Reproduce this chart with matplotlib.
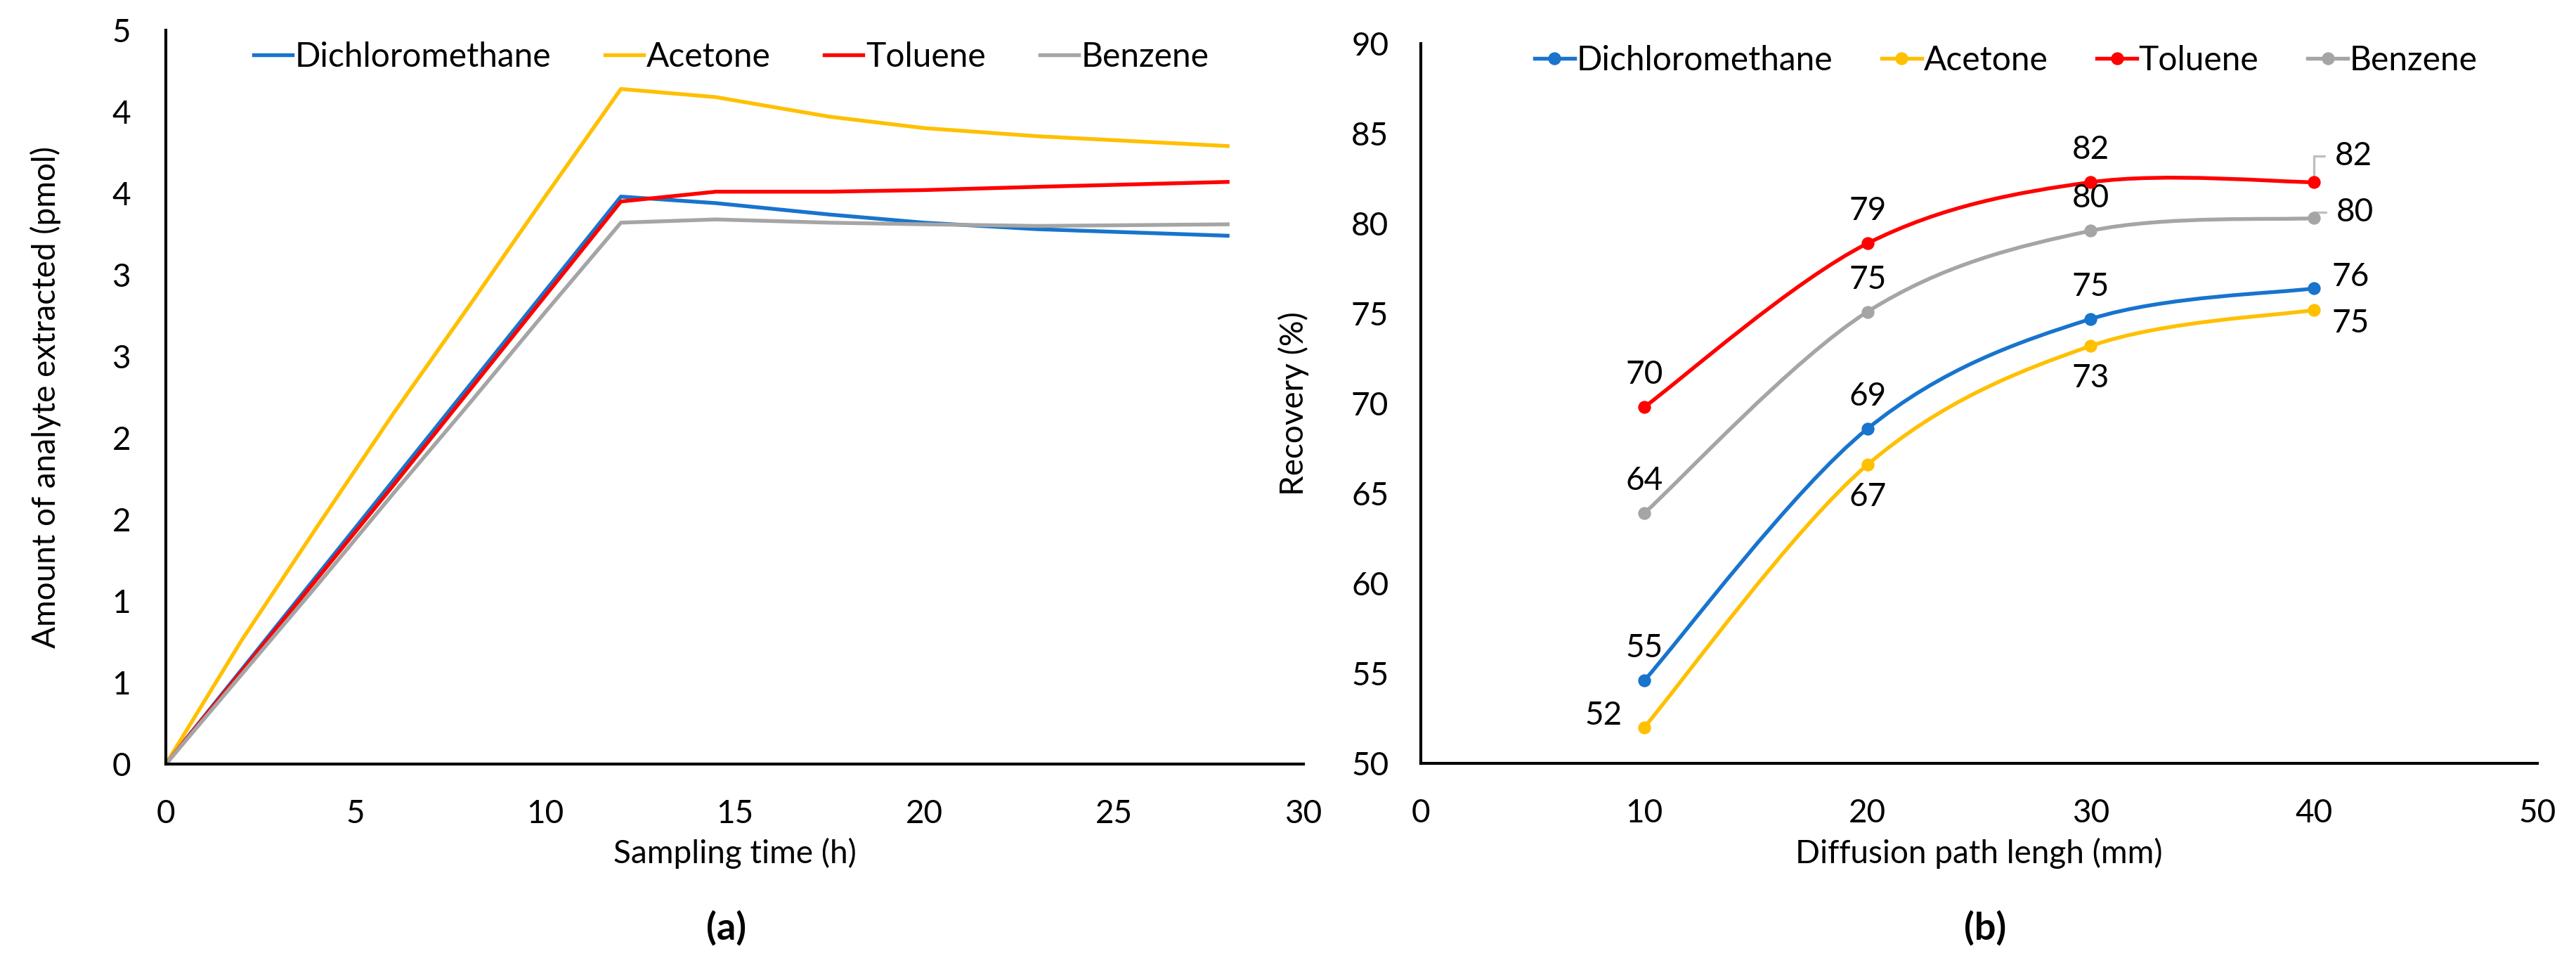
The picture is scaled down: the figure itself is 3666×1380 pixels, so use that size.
import matplotlib
matplotlib.use('Agg')
import matplotlib.pyplot as plt
import numpy as np
from matplotlib.path import Path
from matplotlib.patches import PathPatch
from matplotlib.lines import Line2D
from matplotlib.ticker import FuncFormatter, MultipleLocator

plt.rcParams['font.family'] = ['Lato', 'DejaVu Sans']

# ── Palette ──────────────────────────────────────────────────────────────
BLUE = '#1874CD'
GOLD = '#FFC000'
RED = '#FF0000'
GREY = '#A5A5A5'
LEADER = '#BFBFBF'

solvents = ['Dichloromethane', 'Acetone', 'Toluene', 'Benzene']
colors = [BLUE, GOLD, RED, GREY]

# ── (a) amount extracted vs sampling time ────────────────────────────────
time_h = [0, 2, 4, 6, 8, 10, 12, 14.5, 17.5, 20, 23, 28]
amount_dcm = [0, 0.58, 1.16, 1.74, 2.32, 2.90, 3.48, 3.44, 3.37, 3.32, 3.28, 3.24]
amount_acetone = [0, 0.76, 1.46, 2.15, 2.81, 3.48, 4.14, 4.09, 3.97, 3.90, 3.85, 3.79]
amount_toluene = [0, 0.57, 1.14, 1.71, 2.29, 2.87, 3.45, 3.51, 3.51, 3.52, 3.54, 3.57]
amount_benzene = [0, 0.55, 1.10, 1.66, 2.21, 2.77, 3.32, 3.34, 3.32, 3.31, 3.30, 3.31]

# ── (b) recovery vs diffusion path length ────────────────────────────────
path_mm = [10, 20, 30, 40]
rec_dcm = [54.6, 68.6, 74.7, 76.4]
rec_acetone = [52.0, 66.6, 73.2, 75.2]
rec_toluene = [69.8, 78.9, 82.3, 82.3]
rec_benzene = [63.9, 75.1, 79.6, 80.3]

# data-label offsets (points) for panel (b), one per point
label_offsets = [
    [(0, 11), (0, 11), (0, 11), (10, 4)],          # DCM
    [(-11.5, 4), (0, -11), (0, -11), (10, -4.5)],  # Acetone
    [(0, 11), (0, 11), (0, 11), (11, 9)],          # Toluene
    [(0, 11), (0, 11), (0, 11), (11.5, 2)],        # Benzene
]
leader_flags = [
    [False, False, False, False],
    [False, False, False, False],
    [False, False, False, True],
    [False, False, False, True],
]


def smooth_path(x, y):
    """Excel-like smoothed line as cubic Bezier segments (Catmull-Rom)."""
    pts = np.column_stack([x, y]).astype(float)
    n = len(pts)
    verts = [pts[0]]
    codes = [Path.MOVETO]
    for i in range(n - 1):
        p0 = pts[max(i - 1, 0)]
        p1 = pts[i]
        p2 = pts[i + 1]
        p3 = pts[min(i + 2, n - 1)]
        verts += [p1 + (p2 - p0) / 6, p2 - (p3 - p1) / 6, p2]
        codes += [Path.CURVE4] * 3
    return Path(verts, codes)


def style_axes(ax):
    for side in ('top', 'right'):
        ax.spines[side].set_visible(False)
    for side in ('left', 'bottom'):
        ax.spines[side].set_linewidth(1.0)
        ax.spines[side].set_color('black')
    ax.tick_params(length=0, labelsize=11, pad=12)


fig = plt.figure(figsize=(3666 / 300, 1380 / 300), dpi=300)
fig.patch.set_facecolor('white')

# ── Panel (a) ────────────────────────────────────────────────────────────
ax1 = fig.add_axes([0.0644, 0.2123, 0.4416, 0.7565])
series_a = [amount_dcm, amount_acetone, amount_toluene, amount_benzene]
for name, vals, c in zip(solvents, series_a, colors):
    ax1.plot(time_h, vals, color=c, lw=1.3, label=name, solid_joinstyle='round')

ax1.set_xlim(0, 30)
ax1.set_ylim(0, 4.5)
ax1.xaxis.set_major_locator(MultipleLocator(5))
ax1.yaxis.set_major_locator(MultipleLocator(0.5))
ax1.yaxis.set_major_formatter(FuncFormatter(lambda v, p: f'{int(np.floor(v + 0.5))}'))
style_axes(ax1)
ax1.set_xlabel('Sampling time (h)', fontsize=11)
ax1.set_ylabel('Amount of analyte extracted (pmol)', fontsize=11)
ax1.xaxis.set_label_coords(0.5, -0.10)
ax1.yaxis.set_label_coords(-0.092, 0.5)
ax1.legend(loc='center', bbox_to_anchor=(0.497, 0.964), ncol=4, frameon=False,
           fontsize=11.5, handlelength=1.15, handletextpad=0.08,
           columnspacing=1.6, borderaxespad=0)

# ── Panel (b) ────────────────────────────────────────────────────────────
ax2 = fig.add_axes([0.5516, 0.2130, 0.4334, 0.7420])
series_b = [rec_dcm, rec_acetone, rec_toluene, rec_benzene]
handles = []
for k, (name, vals, c) in enumerate(zip(solvents, series_b, colors)):
    ax2.add_patch(PathPatch(smooth_path(path_mm, vals), fill=False,
                            edgecolor=c, lw=1.3, capstyle='round'))
    ax2.plot(path_mm, vals, linestyle='none', marker='o', markersize=3.4,
             color=c, zorder=4)
    handles.append(Line2D([], [], color=c, lw=1.3, marker='o', markersize=3.4))
    for j, (xv, yv) in enumerate(zip(path_mm, vals)):
        dx, dy = label_offsets[k][j]
        ha = 'center' if dx == 0 else ('left' if dx > 0 else 'right')
        if dx > 0:
            dx -= 4
        elif dx < 0:
            dx += 4
        if leader_flags[k][j]:
            ax2.annotate(f'{yv:.0f}', xy=(xv, yv), xytext=(dx, dy),
                         textcoords='offset points', ha=ha, va='center',
                         fontsize=11,
                         arrowprops=dict(arrowstyle='-', color=LEADER, lw=0.8,
                                         relpos=(0, 0.5), shrinkA=1.5, shrinkB=0,
                                         connectionstyle='angle,angleA=0,angleB=90,rad=0'))
        else:
            ax2.annotate(f'{yv:.0f}', xy=(xv, yv), xytext=(dx, dy),
                         textcoords='offset points', ha=ha, va='center',
                         fontsize=11)

ax2.set_xlim(0, 50)
ax2.set_ylim(50, 90)
ax2.xaxis.set_major_locator(MultipleLocator(10))
ax2.yaxis.set_major_locator(MultipleLocator(5))
style_axes(ax2)
ax2.tick_params(axis='y', pad=11)
ax2.set_xlabel('Diffusion path lengh (mm)', fontsize=11)
ax2.set_ylabel('Recovery (%)', fontsize=11)
ax2.xaxis.set_label_coords(0.5, -0.1035)
ax2.yaxis.set_label_coords(-0.10, 0.5)
ax2.legend(handles, solvents, loc='center', bbox_to_anchor=(0.524, 0.9766),
           ncol=4, frameon=False, fontsize=11.5, handlelength=1.2,
           handletextpad=0.05, columnspacing=1.45, borderaxespad=0)

# ── Panel tags ───────────────────────────────────────────────────────────
fig.text(0.2818, 0.0435, '(a)', fontsize=13, fontweight='bold', ha='center', va='center')
fig.text(0.7706, 0.0435, '(b)', fontsize=13, fontweight='bold', ha='center', va='center')

fig.savefig('out.png', dpi=300, facecolor='white')
plt.close(fig)
